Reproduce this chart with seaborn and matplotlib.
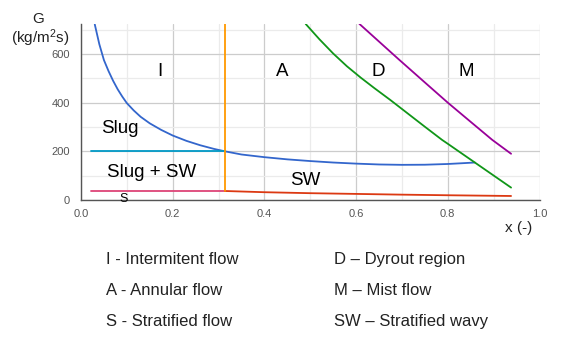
import matplotlib
matplotlib.use("Agg")
import matplotlib.pyplot as plt
import seaborn as sns
from matplotlib.ticker import MultipleLocator

# ---- data ----
blue_x = [0.030, 0.040, 0.050, 0.060, 0.070, 0.080, 0.090, 0.100, 0.115, 0.130,
          0.150, 0.175, 0.200, 0.230, 0.260, 0.290, 0.314, 0.350, 0.400, 0.450,
          0.500, 0.550, 0.600, 0.650, 0.700, 0.750, 0.800, 0.830, 0.859]
blue_y = [722, 640, 575, 530, 490, 455, 425, 398, 368, 342,
          315, 288, 265, 243, 225, 210, 200, 187, 176, 167,
          160, 154, 149.5, 146, 144.5, 145, 148, 151, 154]

cyan_x = [0.022, 0.314]
cyan_y = [200, 200]

pink_x = [0.022, 0.314]
pink_y = [37, 37]

red_x = [0.314, 0.40, 0.50, 0.60, 0.70, 0.80, 0.938]
red_y = [37, 32, 28, 25, 22, 19.5, 16.5]

orange_x = [0.314, 0.314]
orange_y = [37, 740]

green_x = [0.490, 0.520, 0.550, 0.580, 0.610, 0.640, 0.675, 0.700, 0.750, 0.7875,
           0.800, 0.859, 0.938]
green_y = [723.5, 660.5, 602, 549.5, 503, 459.5, 410.5, 374, 301, 247,
           231, 154, 51]

purple_x = [0.607, 0.650, 0.693, 0.750, 0.800, 0.850, 0.897, 0.938]
purple_y = [724, 651, 578, 483, 400, 321, 247, 190]

region_labels = ["I", "A", "D", "M", "Slug", "Slug + SW", "SW"]
region_x = [0.172, 0.439, 0.648, 0.841, 0.0837, 0.153, 0.49]
region_y = [508, 508, 508, 508, 275, 96, 62]

legend_left = ["I - Intermitent flow", "A - Annular flow", "S - Stratified flow"]
legend_right = ["D \u2013 Dyrout region", "M \u2013 Mist flow", "SW \u2013 Stratified wavy"]

# ---- style ----
sns.set_style("white")
plt.rcParams['font.family'] = ['Liberation Sans', 'DejaVu Sans']
plt.rcParams['mathtext.fontset'] = 'custom'
plt.rcParams['mathtext.rm'] = 'Liberation Sans'
plt.rcParams['mathtext.it'] = 'Liberation Sans'

W, H = 565, 338
fig = plt.figure(figsize=(W / 100, H / 100), dpi=100)
ax = fig.add_axes([81 / W, 1 - 200 / H, (539.5 - 81) / W, (200 - 24.3) / H])


def draw(xs, ys, color, z):
    sns.lineplot(x=xs, y=ys, ax=ax, color=color, lw=1.3, sort=False,
                 estimator=None, zorder=z)


draw(blue_x, blue_y, "#3366cc", 3)
draw(cyan_x, cyan_y, "#0099c6", 4)
draw(pink_x, pink_y, "#dd4477", 3)
draw(red_x, red_y, "#dc3912", 4)
draw(green_x, green_y, "#109618", 3)
draw(purple_x, purple_y, "#990099", 3)
draw(orange_x, orange_y, "#ff9900", 5)

ax.set_xlim(0, 1.0)
ax.set_ylim(0, 722)
ax.xaxis.set_major_locator(MultipleLocator(0.2))
ax.xaxis.set_minor_locator(MultipleLocator(0.1))
ax.yaxis.set_major_locator(MultipleLocator(200))
ax.yaxis.set_minor_locator(MultipleLocator(100))
ax.grid(which='major', color='#cccccc', lw=0.9, zorder=0)
ax.grid(which='minor', color='#ebebeb', lw=0.9, zorder=0)
ax.set_axisbelow(True)
ax.tick_params(axis='both', which='both', length=0, labelsize=8, labelcolor='#555555')
ax.tick_params(axis='x', pad=6.5)
ax.tick_params(axis='y', pad=8)
for s in ['top', 'right']:
    ax.spines[s].set_visible(False)
for s in ['left', 'bottom']:
    ax.spines[s].set_color('#555555')
    ax.spines[s].set_linewidth(1.0)
ax.set_xlabel("")
ax.set_ylabel("")

for lab, x, y in zip(region_labels, region_x, region_y):
    ax.text(x, y, lab, fontsize=13.5, ha='center', va='baseline', color='black')
ax.text(0.0924, -9.6, "S", fontsize=9, ha='center', va='baseline', color='black')

# axis titles
fig.text(38 / W, 1 - 23.3 / H, "G", fontsize=11, ha='center', va='baseline', color='#222222')
fig.text(40 / W, 1 - 43.3 / H, r"(kg/m$^2$s)", fontsize=11, ha='center', va='baseline', color='#222222')
fig.text(519 / W, 1 - 232 / H, "x (-)", fontsize=11, ha='center', va='baseline', color='#222222')

# legend text under the chart
row_base = [264.3, 295, 326]
for txt, yb in zip(legend_left, row_base):
    fig.text(106 / W, 1 - yb / H, txt, fontsize=12, ha='left', va='baseline', color='#222222')
for txt, yb in zip(legend_right, row_base):
    fig.text(334 / W, 1 - yb / H, txt, fontsize=12, ha='left', va='baseline', color='#222222')

fig.savefig("out.png", dpi=100)
